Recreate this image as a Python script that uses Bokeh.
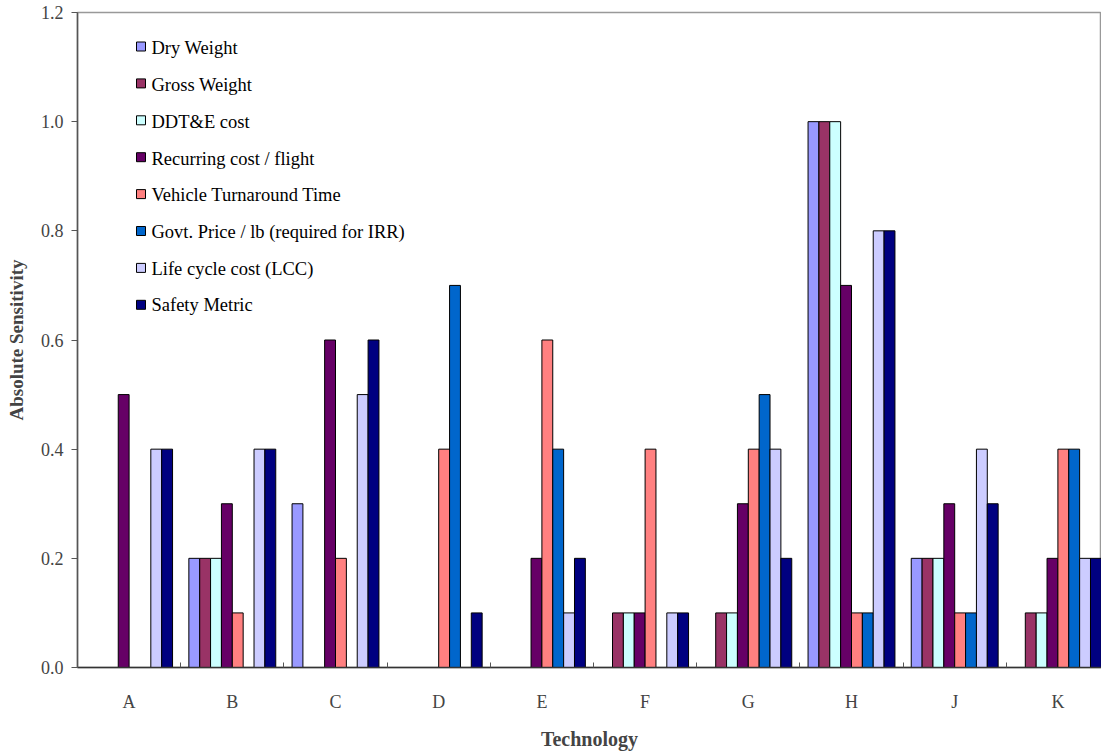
import numpy as np
from bokeh.plotting import figure
from bokeh.models import (ColumnDataSource, Range1d, FixedTicker, BoxAnnotation,
                          LinearAxis, PrintfTickFormatter)
from bokeh.core.properties import value
from bokeh.embed import file_html
from bokeh.resources import INLINE

# Technologies along the x axis (no "I")
technologies = ["A", "B", "C", "D", "E", "F", "G", "H", "J", "K"]

# Absolute sensitivity of each metric per technology
dry_weight = [0.0, 0.2, 0.3, 0.0, 0.0, 0.0, 0.0, 1.0, 0.2, 0.0]
gross_weight = [0.0, 0.2, 0.0, 0.0, 0.0, 0.1, 0.1, 1.0, 0.2, 0.1]
ddte_cost = [0.0, 0.2, 0.0, 0.0, 0.0, 0.1, 0.1, 1.0, 0.2, 0.1]
recurring_cost = [0.5, 0.3, 0.6, 0.0, 0.2, 0.1, 0.3, 0.7, 0.3, 0.2]
turnaround_time = [0.0, 0.1, 0.2, 0.4, 0.6, 0.4, 0.4, 0.1, 0.1, 0.4]
govt_price = [0.0, 0.0, 0.0, 0.7, 0.4, 0.0, 0.5, 0.1, 0.1, 0.4]
lcc = [0.4, 0.4, 0.5, 0.0, 0.1, 0.1, 0.4, 0.8, 0.4, 0.2]
safety_metric = [0.4, 0.4, 0.6, 0.1, 0.2, 0.1, 0.2, 0.8, 0.3, 0.2]

series_names = ["Dry Weight", "Gross Weight", "DDT&E cost", "Recurring cost / flight",
                "Vehicle Turnaround Time", "Govt. Price / lb (required for IRR)",
                "Life cycle cost (LCC)", "Safety Metric"]
series_values = [dry_weight, gross_weight, ddte_cost, recurring_cost,
                 turnaround_time, govt_price, lcc, safety_metric]
series_colors = ["#9999FF", "#993366", "#CCFFFF", "#660066",
                 "#FF8080", "#0066CC", "#CCCCFF", "#000080"]

FONT = "Liberation Serif"
n_series = len(series_names)
slot = 1.0 / (n_series + 1.5)   # bar width with a 150% gap between groups
group_px = 103.2
frame_left, frame_top, frame_bottom = 77, 12, 670
W, H = 1101, 752
x_end = (W - frame_left) / group_px
y_max = 1.2
px_per_unit = (frame_bottom - frame_top) / y_max

p = figure(width=W, height=H, output_backend="svg", toolbar_location=None,
           x_range=Range1d(0, x_end), y_range=Range1d(0, y_max),
           min_border_left=frame_left, min_border_right=0,
           min_border_top=frame_top, min_border_bottom=H - frame_bottom,
           x_axis_type=None, y_axis_type=None)
p.grid.visible = False
p.outline_line_color = "#999999"
p.outline_line_width = 1.5
p.background_fill_color = "white"
p.border_fill_color = "white"

for j, (name, vals, col) in enumerate(zip(series_names, series_values, series_colors)):
    xs = [i + 0.5 + (j - (n_series - 1) / 2) * slot for i, v in enumerate(vals) if v > 0]
    ys = [v for v in vals if v > 0]
    src = ColumnDataSource(dict(x=xs, top=ys))
    p.vbar(x="x", top="top", width=slot, bottom=0, source=src,
           fill_color=col, line_color="black", line_width=1, name=name)

# y axis
yaxis = LinearAxis(ticker=FixedTicker(ticks=[0.0, 0.2, 0.4, 0.6, 0.8, 1.0, 1.2]))
yaxis.formatter = PrintfTickFormatter(format="%.1f")
yaxis.axis_label = "Absolute Sensitivity"
yaxis.axis_label_text_font = FONT
yaxis.axis_label_text_font_style = "bold"
yaxis.axis_label_text_font_size = "19px"
yaxis.axis_label_standoff = 11
yaxis.major_label_text_font = FONT
yaxis.major_label_text_font_size = "18px"
yaxis.major_label_standoff = 8
yaxis.axis_line_color = "#555555"
yaxis.axis_line_width = 1.5
yaxis.major_tick_line_color = "#555555"
yaxis.major_tick_out = 6
yaxis.major_tick_in = 0
yaxis.minor_tick_line_color = None
p.add_layout(yaxis, "left")

# x axis: labels at group centres, small inward ticks at group boundaries
centers = [i + 0.5 for i in range(len(technologies))]
xaxis = LinearAxis(ticker=FixedTicker(ticks=centers,
                                      minor_ticks=list(range(1, len(technologies)))))
xaxis.major_label_overrides = {c: t for c, t in zip(centers, technologies)}
xaxis.axis_label = "Technology"
xaxis.axis_label_text_font = FONT
xaxis.axis_label_text_font_style = "bold"
xaxis.axis_label_text_font_size = "20px"
xaxis.axis_label_standoff = 13
xaxis.major_label_text_font = FONT
xaxis.major_label_text_font_size = "18px"
xaxis.major_label_standoff = 24
xaxis.major_tick_line_color = None
xaxis.major_tick_out = 0
xaxis.major_tick_in = 0
xaxis.minor_tick_line_color = "#555555"
xaxis.minor_tick_in = 5
xaxis.minor_tick_out = 0
xaxis.axis_line_color = "#333333"
xaxis.axis_line_width = 1.5
p.add_layout(xaxis, "below")

# Key: swatch (screen units) and serif label per series, stacked from the top of the frame
key_first_px, key_pitch_px = 48, 36.9     # row centres, pixels below the canvas top
swatch_left, swatch_size, text_left_px = 59, 9, 151
row_px = [key_first_px + j * key_pitch_px for j in range(n_series)]
for cy_px, col in zip(row_px, series_colors):
    cy = frame_bottom - cy_px - 1
    p.add_layout(BoxAnnotation(left=swatch_left, right=swatch_left + swatch_size,
                               bottom=cy - swatch_size / 2, top=cy + swatch_size / 2,
                               left_units="screen", right_units="screen",
                               bottom_units="screen", top_units="screen",
                               fill_color=col, fill_alpha=1.0,
                               line_color="black", line_width=1, line_alpha=1.0))
key_src = ColumnDataSource(dict(
    x=[(text_left_px - frame_left) / group_px] * n_series,
    y=[(frame_bottom - c) / px_per_unit for c in row_px],
    text=series_names))
p.text(x="x", y="y", text="text", source=key_src, text_font=value(FONT),
       text_font_size="18.5px", text_baseline="middle", text_align="left",
       text_color="black")

open("out.html", "w").write(file_html(p, INLINE))
